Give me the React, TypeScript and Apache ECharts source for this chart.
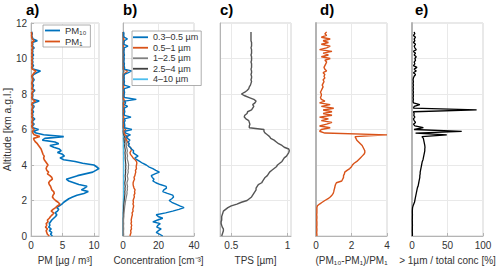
import React, { useEffect, useRef } from "react";
import * as echarts from "echarts";

const ALT = [
  0, 0.1, 0.2, 0.3, 0.4, 0.5, 0.6, 0.7, 0.8, 0.9,
  1, 1.1, 1.2, 1.3, 1.4, 1.5, 1.6, 1.7, 1.8, 1.9,
  2, 2.1, 2.2, 2.3, 2.4, 2.5, 2.6, 2.7, 2.8, 2.9,
  3, 3.1, 3.2, 3.3, 3.4, 3.5, 3.6, 3.7, 3.8, 3.9,
  4, 4.1, 4.2, 4.3, 4.4, 4.5, 4.6, 4.7, 4.8, 4.9,
  5, 5.1, 5.2, 5.3, 5.4, 5.5, 5.6, 5.7, 5.8, 5.9,
  6, 6.1, 6.2, 6.3, 6.4, 6.5, 6.6, 6.7, 6.8, 6.9,
  7, 7.1, 7.2, 7.3, 7.4, 7.5, 7.6, 7.7, 7.8, 7.9,
  8, 8.1, 8.2, 8.3, 8.4, 8.5, 8.6, 8.7, 8.8, 8.9,
  9, 9.1, 9.2, 9.3, 9.4, 9.5, 9.6, 9.7, 9.8, 9.9,
  10, 10.1, 10.2, 10.3, 10.4, 10.5, 10.6, 10.7, 10.8, 10.9,
  11, 11.1, 11.2, 11.3, 11.4, 11.5,
];

// Panel a) PM mass concentration [ug/m3]
const PM10 = [
  3.4, 3.1, 3.3, 2.9, 3.2, 2.8, 3.0, 2.9, 3.1, 3.3,
  3.6, 3.9, 4.1, 3.8, 4.2, 4.4, 4.1, 4.5, 4.9, 5.2,
  5.6, 6.0, 6.6, 7.3, 8.4, 9.1, 8.0, 8.5, 8.9, 7.6,
  6.8, 6.0, 5.6, 6.5, 7.4, 8.6, 9.8, 10.3, 10.8, 10.4,
  10.0, 8.2, 7.0, 5.2, 4.6, 5.3, 5.0, 4.2, 4.8, 4.5,
  3.6, 3.0, 4.4, 3.8, 1.8, 2.2, 5.2, 2.0, 0.8, 0.4,
  1.2, 0.3, 0.2, 0.5, 0.2, 0.3, 0.6, 0.2, 0.3, 0.2,
  0.4, 0.2, 0.3, 0.5, 0.2, 0.4, 1.3, 0.3, 0.2, 0.3,
  0.2, 0.3, 0.6, 0.2, 0.3, 0.4, 0.2, 0.3, 0.5, 0.3,
  0.2, 0.4, 0.9, 1.5, 0.3, 0.2, 0.4, 0.2, 0.3, 0.2,
  0.3, 0.2, 0.4, 0.2, 0.3, 0.2, 0.5, 0.2, 0.3, 0.2,
  1.0, 0.3, 0.2, 0.1, 0.2, 0.1,
];
const PM1 = [
  2.9, 2.6, 2.5, 2.4, 2.6, 2.3, 2.5, 2.4, 2.7, 2.6,
  2.9, 3.1, 3.4, 3.6, 3.2, 3.5, 3.9, 4.2, 4.6, 4.3,
  3.9, 3.6, 3.4, 3.5, 3.7, 3.6, 3.3, 3.2, 3.1, 2.9,
  2.8, 3.0, 3.4, 3.3, 3.0, 2.6, 2.8, 2.5, 2.4, 2.5,
  2.7, 2.5, 2.3, 2.1, 2.0, 2.1, 1.9, 1.8, 1.7, 1.6,
  1.4, 1.2, 1.0, 0.7, 0.5, 0.4, 1.4, 0.5, 0.3, 0.2,
  0.5, 0.2, 0.1, 0.3, 0.1, 0.2, 0.3, 0.1, 0.2, 0.1,
  0.2, 0.1, 0.2, 0.3, 0.1, 0.2, 0.7, 0.2, 0.1, 0.2,
  0.1, 0.2, 0.4, 0.1, 0.2, 0.2, 0.1, 0.2, 0.3, 0.2,
  0.1, 0.3, 0.5, 0.8, 0.2, 0.1, 0.2, 0.1, 0.2, 0.1,
  0.2, 0.1, 0.2, 0.1, 0.2, 0.1, 0.3, 0.1, 0.2, 0.1,
  0.5, 0.2, 0.1, 0.1, 0.1, 0.05,
];

// Panel b) number concentration per size bin [cm-3]
const N_03_05 = [
  22.4, 20.5, 18.7, 20.0, 21.5, 19.0, 19.6, 21.0, 16.8, 19.5,
  22.4, 19.8, 18.7, 24.0, 28.0, 31.5, 34.4, 32.0, 29.8, 27.5,
  26.0, 27.5, 28.5, 28.0, 25.0, 22.4, 23.0, 24.5, 24.3, 21.0,
  18.5, 16.8, 17.5, 16.5, 15.9, 18.0, 20.5, 18.5, 16.8, 14.5,
  13.1, 11.0, 9.4, 7.8, 6.7, 8.5, 7.0, 5.7, 6.0, 4.8,
  4.0, 3.0, 3.6, 2.8, 3.9, 2.5, 1.8, 4.2, 1.5, 1.1,
  5.0, 0.8, 1.0, 0.9, 0.7, 1.2, 0.8, 4.5, 0.9, 0.7,
  1.0, 0.8, 0.7, 2.6, 0.8, 1.5, 0.9, 7.5, 0.8, 0.6,
  0.7, 0.9, 0.6, 0.8, 4.0, 0.7, 0.6, 0.8, 0.5, 0.7,
  0.6, 0.8, 3.0, 4.8, 0.7, 0.9, 0.6, 0.8, 0.5, 0.6,
  0.7, 0.5, 0.8, 0.6, 0.5, 0.7, 0.6, 2.8, 0.5, 0.6,
  0.8, 2.5, 0.6, 0.4, 0.5, 0.3,
];
const N_05_1 = [
  3.9, 4.2, 4.5, 4.3, 4.8, 4.6, 4.9, 4.5, 4.8, 4.6,
  4.8, 5.0, 5.3, 5.1, 5.7, 5.5, 5.8, 6.0, 5.6, 5.9,
  5.7, 6.0, 6.4, 6.2, 6.7, 6.5, 6.8, 6.2, 5.9, 5.7,
  5.7, 6.0, 6.5, 6.2, 6.7, 6.9, 7.2, 7.0, 7.6, 7.4,
  7.6, 7.8, 7.6, 6.8, 5.7, 5.0, 4.2, 3.9, 4.5, 4.8,
  4.0, 3.0, 3.2, 2.5, 2.0, 1.5, 2.8, 1.1, 0.8, 0.6,
  1.5, 0.4, 0.3, 0.5, 0.3, 0.4, 0.6, 0.3, 0.4, 0.3,
  0.4, 0.3, 0.4, 0.6, 0.3, 0.4, 1.2, 0.4, 0.3, 0.3,
  0.3, 0.4, 0.6, 0.3, 0.4, 0.3, 0.3, 0.4, 0.5, 0.3,
  0.3, 0.5, 1.5, 2.5, 0.4, 0.3, 0.4, 0.3, 0.3, 0.3,
  0.3, 0.3, 0.4, 0.3, 0.3, 0.3, 0.4, 0.3, 0.3, 0.3,
  0.6, 0.4, 0.3, 0.2, 0.3, 0.2,
];
const N_1_25 = [
  0.3, 0.4, 0.3, 0.3, 0.4, 0.3, 0.3, 0.4, 0.3, 0.3,
  0.4, 0.5, 0.5, 0.6, 0.7, 0.8, 0.9, 1.0, 1.2, 1.3,
  1.5, 1.7, 1.9, 2.1, 2.3, 2.2, 2.5, 2.4, 2.6, 2.3,
  2.2, 2.5, 2.8, 2.6, 2.4, 2.7, 3.0, 2.8, 3.1, 3.0,
  3.2, 3.0, 2.8, 2.5, 2.3, 2.6, 2.4, 2.2, 2.5, 2.3,
  2.0, 1.8, 2.1, 1.6, 1.4, 1.2, 1.8, 0.8, 0.5, 0.3,
  0.4, 0.2, 0.3, 0.2, 0.2, 0.3, 0.2, 0.4, 0.2, 0.2,
  0.2, 0.3, 0.2, 0.2, 0.3, 0.2, 0.5, 0.2, 0.2, 0.2,
  0.2, 0.2, 0.3, 0.2, 0.2, 0.2, 0.2, 0.2, 0.3, 0.2,
  0.2, 0.2, 0.4, 0.6, 0.2, 0.2, 0.2, 0.2, 0.2, 0.2,
  0.2, 0.2, 0.2, 0.2, 0.2, 0.2, 0.3, 0.2, 0.2, 0.2,
  0.3, 0.2, 0.2, 0.2, 0.2, 0.2,
];
const N_25_4 = [
  0.1, 0.1, 0.1, 0.1, 0.1, 0.1, 0.1, 0.1, 0.1, 0.1,
  0.1, 0.2, 0.2, 0.2, 0.3, 0.3, 0.4, 0.4, 0.5, 0.6,
  0.7, 0.8, 0.9, 1.0, 1.1, 1.0, 1.2, 1.1, 1.3, 1.1,
  1.0, 1.2, 1.4, 1.3, 1.2, 1.4, 1.5, 1.4, 1.6, 1.5,
  1.6, 1.5, 1.4, 1.3, 1.2, 1.3, 1.2, 1.1, 1.3, 1.2,
  1.0, 0.9, 1.1, 0.8, 0.7, 0.6, 0.9, 0.4, 0.2, 0.1,
  0.2, 0.1, 0.1, 0.1, 0.1, 0.1, 0.1, 0.2, 0.1, 0.1,
  0.1, 0.1, 0.1, 0.1, 0.1, 0.1, 0.2, 0.1, 0.1, 0.1,
  0.1, 0.1, 0.1, 0.1, 0.1, 0.1, 0.1, 0.1, 0.1, 0.1,
  0.1, 0.1, 0.2, 0.3, 0.1, 0.1, 0.1, 0.1, 0.1, 0.1,
  0.1, 0.1, 0.1, 0.1, 0.1, 0.1, 0.1, 0.1, 0.1, 0.1,
  0.1, 0.1, 0.1, 0.1, 0.1, 0.1,
];
const N_4_10 = [
  0.05, 0.05, 0.05, 0.05, 0.05, 0.05, 0.05, 0.05, 0.05, 0.05,
  0.05, 0.05, 0.05, 0.05, 0.05, 0.1, 0.1, 0.1, 0.15, 0.2,
  0.2, 0.25, 0.3, 0.3, 0.35, 0.3, 0.35, 0.3, 0.4, 0.35,
  0.3, 0.35, 0.4, 0.35, 0.3, 0.4, 0.45, 0.4, 0.45, 0.4,
  0.45, 0.4, 0.35, 0.3, 0.3, 0.35, 0.3, 0.25, 0.3, 0.25,
  0.2, 0.2, 0.25, 0.2, 0.15, 0.1, 0.2, 0.1, 0.05, 0.05,
  0.05, 0.05, 0.05, 0.05, 0.05, 0.05, 0.05, 0.05, 0.05, 0.05,
  0.05, 0.05, 0.05, 0.05, 0.05, 0.05, 0.05, 0.05, 0.05, 0.05,
  0.05, 0.05, 0.05, 0.05, 0.05, 0.05, 0.05, 0.05, 0.05, 0.05,
  0.05, 0.05, 0.05, 0.05, 0.05, 0.05, 0.05, 0.05, 0.05, 0.05,
  0.05, 0.05, 0.05, 0.05, 0.05, 0.05, 0.05, 0.05, 0.05, 0.05,
  0.05, 0.05, 0.05, 0.05, 0.05, 0.05,
];

// Panel c) TPS [um]
const TPS = [
  0.415, 0.42, 0.425, 0.43, 0.43, 0.42, 0.415, 0.41, 0.41, 0.415,
  0.415, 0.415, 0.42, 0.425, 0.43, 0.45, 0.47, 0.5, 0.55, 0.59,
  0.64, 0.66, 0.68, 0.69, 0.7, 0.71, 0.72, 0.72, 0.73, 0.74,
  0.77, 0.78, 0.79, 0.8, 0.82, 0.83, 0.84, 0.86, 0.88, 0.9,
  0.91, 0.93, 0.95, 0.96, 0.97, 0.99, 1.0, 1.01, 1.015, 1.01,
  0.97, 0.95, 0.92, 0.9, 0.88, 0.85, 0.84, 0.82, 0.8, 0.79,
  0.79, 0.66, 0.66, 0.665, 0.66, 0.655, 0.63, 0.615, 0.62, 0.64,
  0.645, 0.68, 0.69, 0.7, 0.69, 0.71, 0.72, 0.7, 0.66, 0.62,
  0.59, 0.62, 0.64, 0.655, 0.66, 0.67, 0.675, 0.68, 0.675, 0.68,
  0.68, 0.675, 0.68, 0.68, 0.675, 0.68, 0.68, 0.68, 0.675, 0.68,
  0.68, 0.68, 0.675, 0.68, 0.68, 0.68, 0.675, 0.68, 0.68, 0.68,
  0.675, 0.675, 0.675, 0.675, 0.675, 0.675,
];

// Panel d) (PM10-PM1)/PM1
const RATIO = [
  0.05, 0.05, 0.04, 0.05, 0.05, 0.04, 0.05, 0.05, 0.05, 0.04,
  0.05, 0.05, 0.04, 0.05, 0.05, 0.05, 0.05, 0.08, 0.2, 0.35,
  0.5, 0.68, 0.8, 0.9, 0.97, 1.0, 1.02, 1.05, 1.07, 1.1,
  1.15, 1.45, 1.5, 1.55, 1.55, 1.6, 1.62, 1.75, 1.9, 2.0,
  2.05, 2.15, 2.3, 2.4, 2.5, 2.6, 2.7, 2.75, 2.75, 2.7,
  2.65, 2.6, 2.5, 2.4, 2.3, 2.25, 2.2, 4.0, 0.5, 0.2,
  0.3, 0.8, 0.2, 0.6, 0.9, 0.3, 0.7, 0.2, 0.9, 0.4,
  0.9, 0.4, 1.0, 0.3, 0.8, 0.2, 0.5, 0.3, 0.25, 0.3,
  0.3, 0.25, 0.3, 0.35, 0.4, 0.35, 0.4, 0.45, 0.4, 0.5,
  0.45, 0.5, 0.4, 0.6, 0.5, 0.45, 0.5, 0.55, 0.6, 0.5,
  0.8, 0.3, 0.7, 0.4, 0.9, 0.2, 0.6, 0.8, 0.3, 0.7,
  0.4, 0.8, 0.3, 0.6, 0.5, 0.6,
];

// Panel e) > 1 um / total conc [%]
const COARSE = [
  0.5, 0.6, 0.5, 0.4, 0.5, 0.5, 0.6, 0.5, 0.5, 0.4,
  0.5, 0.5, 0.6, 0.5, 0.5, 0.6, 0.8, 1.5, 2.5, 3.5,
  4.0, 4.5, 5.0, 5.5, 6.0, 6.5, 7.0, 7.5, 8.5, 9.0,
  9.5, 10.0, 10.5, 11.0, 11.0, 11.5, 11.5, 12.0, 12.5, 13.0,
  13.5, 14.0, 14.5, 15.5, 16.0, 16.5, 17.0, 17.5, 18.0, 18.0,
  18.3, 18.0, 17.5, 17.0, 16.5, 16.0, 14.0, 49.0, 5.0, 70.0,
  3.0, 16.0, 4.0, 2.0, 5.0, 3.0, 2.0, 4.0, 2.5, 3.0,
  2.0, 91.0, 2.0, 3.0, 11.0, 2.0, 1.5, 2.0, 1.5, 2.0,
  1.5, 2.0, 1.5, 2.0, 1.5, 2.0, 1.5, 2.0, 1.5, 2.0,
  3.0, 5.0, 2.0, 6.0, 3.0, 7.0, 2.0, 4.0, 3.0, 5.0,
  4.0, 6.0, 3.0, 5.0, 2.0, 6.0, 4.0, 3.0, 5.0, 2.0,
  4.0, 3.0, 5.0, 2.0, 4.0, 3.0,
];

const PANEL_LABELS = ["a)", "b)", "c)", "d)", "e)"];
const X_NAMES = [
  "PM [µg / m³]",
  "Concentration [cm⁻³]",
  "TPS [µm]",
  "(PM₁₀-PM₁)/PM₁",
  "> 1µm / total conc [%]",
];
const Y_NAME = "Altitude [km a.g.l.]";
const BIN_NAMES = ["0.3–0.5 µm", "0.5–1 µm", "1–2.5 µm", "2.5–4 µm", "4–10 µm"];

const FONT = "'Liberation Sans', Arial, Helvetica, sans-serif";
const LEFTS = [28, 123, 220, 316, 412];
const LABEL_LEFTS = [26, 123, 220, 320, 415];
const TXT = "#333333";
const AXIS = "#b4b4b4";
const GRIDC = "#e9e9e9";

const pairs = (v: number[]) => v.map((x, i) => [x, ALT[i]]);

export default function App() {
  const ref = useRef<HTMLDivElement>(null);
  useEffect(() => {
    document.body.style.margin = "0";
    const chart = echarts.init(ref.current!, null, { renderer: "svg" });

    const xCommon = (i: number) => ({
      type: "value",
      gridIndex: i,
      position: "bottom",
      name: X_NAMES[i],
      nameLocation: "middle",
      nameGap: 19,
      nameTextStyle: { fontSize: 10, color: TXT, fontFamily: FONT },
      axisLine: { show: true, onZero: false, lineStyle: { color: AXIS } },
      axisTick: { show: true, inside: true, length: 3, lineStyle: { color: AXIS } },
      axisLabel: { fontSize: 10, color: TXT, margin: 4, fontFamily: FONT },
      splitLine: { show: true, lineStyle: { color: GRIDC, width: 1 } },
    });

    const xAxis: any[] = [
      { ...xCommon(0), min: 0, max: 10.8, interval: 5, axisLabel: { ...xCommon(0).axisLabel, showMaxLabel: false } },
      { ...xCommon(1), min: 0, max: 40, interval: 20 },
      {
        ...xCommon(2),
        min: 0.4,
        max: 1.03,
        axisLabel: { ...xCommon(2).axisLabel, customValues: [0.5, 1] },
        axisTick: { ...xCommon(2).axisTick, customValues: [0.5, 1] },
      },
      { ...xCommon(3), min: 0, max: 4, interval: 2 },
      { ...xCommon(4), min: 0, max: 100, interval: 50 },
    ];

    const yAxis: any[] = LEFTS.map((_, i) => ({
      type: "value",
      gridIndex: i,
      min: 0,
      max: 12,
      interval: 2,
      name: i === 0 ? Y_NAME : "",
      nameLocation: "middle",
      nameGap: 14,
      nameTextStyle: { fontSize: 10.5, color: TXT, fontFamily: FONT },
      axisLine: { show: true, onZero: false, lineStyle: { color: AXIS, width: i >= 3 ? 2 : 1 } },
      axisTick: { show: i === 0, inside: true, length: 3, lineStyle: { color: AXIS } },
      axisLabel: { show: i === 0, fontSize: 10, color: TXT, margin: 4, fontFamily: FONT },
      splitLine: { show: true, lineStyle: { color: GRIDC, width: 1 } },
    }));

    const line = (name: string, data: number[], color: string, idx: number, width = 1.4) => ({
      type: "line",
      name,
      xAxisIndex: idx,
      yAxisIndex: idx,
      data: pairs(data),
      symbol: "none",
      showSymbol: false,
      lineStyle: { color, width },
      itemStyle: { color },
      z: 3,
    });

    const legendCommon = {
      orient: "vertical",
      icon: "rect",
      itemGap: 0,
      itemWidth: 15,
      itemHeight: 1.8,
      borderColor: "#9a9a9a",
      borderWidth: 0.8,
      backgroundColor: "#ffffff",
      selectedMode: false,
      textStyle: { fontSize: 9.5, color: TXT, fontFamily: FONT, lineHeight: 11 },
      z: 10,
    };

    const option: any = {
      animation: false,
      backgroundColor: "#ffffff",
      title: PANEL_LABELS.map((t, i) => ({
        text: t,
        left: LABEL_LEFTS[i],
        top: 2,
        padding: 0,
        textStyle: { fontSize: 15, fontWeight: "bold", color: "#000", fontFamily: FONT },
      })),
      grid: LEFTS.map((l) => ({
        left: l,
        top: 23,
        width: 71,
        height: 215,
        show: true,
        borderColor: "#d2d2d2",
        borderWidth: 1,
        backgroundColor: "transparent",
      })),
      legend: [
        {
          ...legendCommon,
          data: ["PM₁₀", "PM₁"],
          left: 43,
          top: 25,
          padding: [0, 4, 0, 2],
        },
        {
          ...legendCommon,
          data: BIN_NAMES,
          left: 132,
          top: 31,
          padding: [1, 3, 1, 1],
          itemGap: 0,
          textStyle: { fontSize: 9, color: TXT, fontFamily: FONT, lineHeight: 10.5 },
        },
      ],
      xAxis,
      yAxis,
      series: [
        line("PM₁₀", PM10, "#0072BD", 0, 1.6),
        line("PM₁", PM1, "#D95319", 0, 1.6),
        line(BIN_NAMES[4], N_4_10, "#4DBEEE", 1, 1.2),
        line(BIN_NAMES[3], N_25_4, "#404040", 1, 1.2),
        line(BIN_NAMES[2], N_1_25, "#808080", 1, 1.2),
        line(BIN_NAMES[1], N_05_1, "#D95319", 1, 1.4),
        line(BIN_NAMES[0], N_03_05, "#0072BD", 1, 1.4),
        line("TPS", TPS, "#555555", 2, 1.4),
        line("ratio", RATIO, "#D95319", 3, 1.4),
        line("coarse", COARSE, "#000000", 4, 1.3),
      ],
    };

    chart.setOption(option);
    return () => chart.dispose();
  }, []);
  return <div ref={ref} style={{ width: 500, height: 270 }} />;
}
